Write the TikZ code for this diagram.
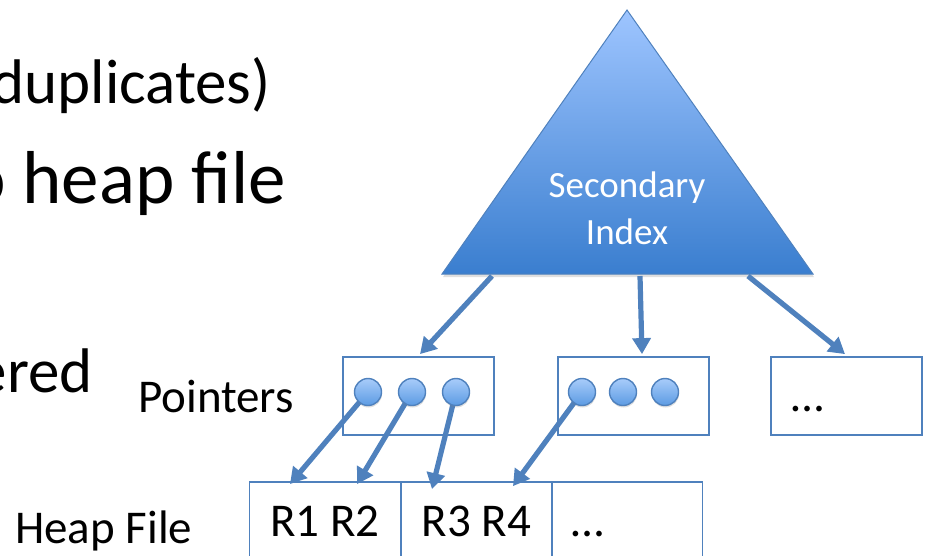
\documentclass[tikz,border=0pt]{standalone}
\usepackage{fontspec}
\setmainfont{Carlito}
\usetikzlibrary{arrows.meta,shadows,calc}
\definecolor{edge}{HTML}{4F81BD}
\definecolor{triTop}{HTML}{9EC5FF}
\definecolor{triBot}{HTML}{3A7ECF}
\definecolor{dotTop}{HTML}{A8CCFA}
\definecolor{dotBot}{HTML}{5C9BE3}
\tikzset{
  slotbox/.style={draw=edge, line width=1.8pt, minimum width=151pt, minimum height=78pt, inner sep=0pt},
  heapbox/.style={draw=edge, line width=1.8pt, minimum width=151pt, minimum height=100pt, inner sep=0pt},
  ptr/.style={draw=edge, line width=5.2pt, -{Triangle[length=16pt,width=18pt]}},
  dot/.style={circle, minimum size=27pt, inner sep=0pt, draw=edge, line width=1.4pt,
    top color=dotTop, bottom color=dotBot,
    drop shadow={opacity=0.25, shadow xshift=0.5pt, shadow yshift=-2pt}},
  bigtext/.style={inner sep=0pt, font=\fontsize{#1}{#1}\selectfont},
  label/.style={inner sep=0pt, font=\fontsize{47}{54}\selectfont},
}
\begin{document}
\begin{tikzpicture}[x=1pt, y=-1pt]
\useasboundingbox (0,0) rectangle (926,555);

% slide text running in from the left
\node[bigtext=63, anchor=base east] (l1) at (271,103) {duplicates)};
\node[bigtext=75, anchor=base east] (l2) at (286,203) {o heap file};
\node[bigtext=63, anchor=base east] (l3) at (93,392) {ered};

% index triangle
\coordinate (apex) at (627,10);
\coordinate (bl) at (442,274);
\coordinate (br) at (813,274);
\path[top color=triTop, bottom color=triBot, draw=edge, line width=1pt,
      drop shadow={opacity=0.25, shadow xshift=1pt, shadow yshift=-3pt}]
  (apex) -- (bl) -- (br) -- cycle;
\node[inner sep=0pt, text=white, font=\fontsize{37}{40}\selectfont, anchor=base] (idx1) at (627,197) {Secondary};
\node[inner sep=0pt, text=white, font=\fontsize{37}{40}\selectfont, anchor=base] (idx2) at (627,244) {Index};
\coordinate (t1) at (492,276);
\coordinate (t2) at (640,276);
\coordinate (t3) at (748,276);

% pointer pages
\node[slotbox] (b1) at (418.5,396) {};
\node[slotbox] (b2) at (633.5,396) {};
\node[slotbox] (b3) at (846.5,396) {};
\node[label, anchor=base west] (dots3) at (791,411) {…};
\node[label, anchor=base west] (lp) at (138,412) {Pointers};

% heap file pages
\node[heapbox] (h1) at (325,532) {};
\node[heapbox] (h2) at (476.5,532) {};
\node[heapbox] (h3) at (627,532) {};
\node[label, anchor=base] (r12) at (h1 |- 0,536) {R1 R2};
\node[label, anchor=base] (r34) at (h2 |- 0,536) {R3 R4};
\node[label, anchor=base west] (dotsh) at (571,536) {…};
\node[label, anchor=base west] (lh) at (15,543) {Heap File};

% index to pointer pages
\draw[ptr] (t1) -- ($(b1.north)+(1.5,-2)$);
\draw[ptr] (t2) -- ($(b2.north)+(8.5,-2)$);
\draw[ptr] (t3) -- ($(b3.north)+(-1.5,-2)$);

% pointers into the heap file
\coordinate (c1) at (368,392);
\coordinate (c2) at (412,392);
\coordinate (c3) at (456,392);
\coordinate (d1) at (582,392);
\draw[ptr] (c1) -- ($(h1.north)+(-35,3)$);
\draw[ptr] (c2) -- ($(h1.north)+(32,3)$);
\draw[ptr] (c3) -- ($(h2.north)+(-44.5,8)$);
\draw[ptr] (d1) -- ($(h2.north)+(36.5,5)$);

% pointer dots
\node[dot] (p1) at (c1) {};
\node[dot] (p2) at (c2) {};
\node[dot] (p3) at (c3) {};
\node[dot] (q1) at (d1) {};
\node[dot] (q2) at (623,392) {};
\node[dot] (q3) at (665,392) {};
\end{tikzpicture}
\end{document}
